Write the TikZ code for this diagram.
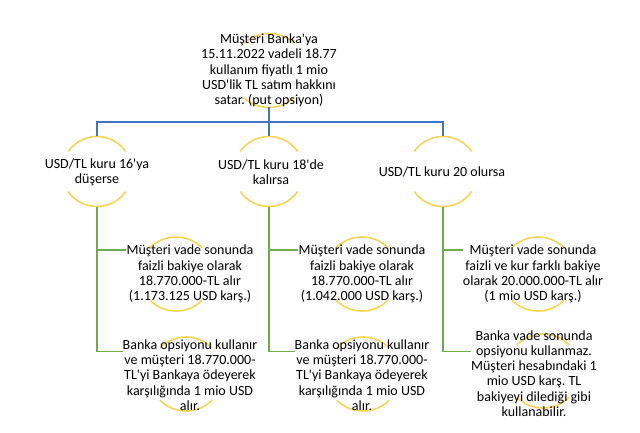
\documentclass[tikz,border=0pt]{standalone}
\usepackage{fontspec}
\setmainfont{Carlito}
\frenchspacing
\usetikzlibrary{positioning}
\definecolor{HalkaSari}{HTML}{F5D451}
\definecolor{BagMavi}{HTML}{4472C4}
\definecolor{BagYesil}{HTML}{70AD47}

\begin{document}
\begin{tikzpicture}[
        x=1pt, y=1pt, font=\fontsize{14}{15.3}\selectfont,
        halkayeri/.style={circle, inner sep=0pt, outer sep=0pt},
        halka/.style={HalkaSari, line width=1.6pt},
        metin/.style={align=center, inner sep=0pt},
        mavi/.style={BagMavi, line width=1.2pt},
        yesil/.style={BagYesil, line width=1.2pt},
      ]
        \useasboundingbox (0,0) rectangle (640,432);
        % --- halkalar: yalnız üst ve alt yaylar ---
        \foreach \ad/\x/\y/\r/\a in {h0/269/361.5/37/47, h1/97/260.5/35/35, h2/269/260.5/35/35, h3/443/260.5/35/35,
            c1/176/158/37/45, c2/362/158/37/45, c3/538/158/37/45,
            d1/186/58/37/45, d2/363/58/37/45, d3/543/61/37/45}{
          \node[halkayeri, minimum size=2*\r] (\ad) at (\x,\y) {};
          \draw[halka] (\ad.\a) arc[start angle=\a, end angle=180-\a, radius=\r];
          \draw[halka] (\ad.-\a) arc[start angle=-\a, end angle=-180+\a, radius=\r];
        }
        % --- metinler ---
        \node[metin] (ana) at (269,361.5) {Müşteri Banka\textquotesingle ya\\15.11.2022 vadeli 18.77\\kullanım fiyatlı 1 mio\\USD\textquotesingle lik TL satım hakkını\\satar. (put opsiyon)};
        \node[metin] (k1) at (97,260) {USD/TL kuru 16\textquotesingle ya\\düşerse};
        \node[metin] (k2) at (271,260) {USD/TL kuru 18\textquotesingle de\\kalırsa};
        \node[metin] (k3) at (442,260) {USD/TL kuru 20 olursa};
        \node[metin] (u1) at (190,158) {Müşteri vade sonunda\\faizli bakiye olarak\\18.770.000-TL alır\\(1.173.125 USD karş.)};
        \node[metin] (u2) at (362,158) {Müşteri vade sonunda\\faizli bakiye olarak\\18.770.000-TL alır\\(1.042.000 USD karş.)};
        \node[metin] (u3) at (533,158) {Müşteri vade sonunda\\faizli ve kur farklı bakiye\\olarak 20.000.000-TL alır\\(1 mio USD karş.)};
        \node[metin] (a1) at (190,57) {Banka opsiyonu kullanır\\ve müşteri 18.770.000-\\TL\textquotesingle yi Bankaya ödeyerek\\karşılığında 1 mio USD\\alır.};
        \node[metin] (a2) at (362,57) {Banka opsiyonu kullanır\\ve müşteri 18.770.000-\\TL\textquotesingle yi Bankaya ödeyerek\\karşılığında 1 mio USD\\alır.};
        \node[metin] (a3) at (534,58.5) {Banka vade sonunda\\opsiyonu kullanmaz.\\Müşteri hesabındaki 1\\mio USD karş. TL\\bakiyeyi dilediği gibi\\kullanabilir.};
        % --- mavi bağlar (1. düzey -> 2. düzey) ---
        \coordinate (m0) at (269,310);
        \draw[mavi] (ana.south -| h0.south) -- (m0);
        \draw[mavi] (h1.north) |- (m0) -| (h3.north);
        \draw[mavi] (m0) -- (h2.north);
        % --- yeşil bağlar (2. düzey -> 3. düzey) ---
        \coordinate (dust) at (0,182);
        \coordinate (dalt) at (0,80.5);
        \foreach \k in {1,2,3}{
          \draw[yesil] (h\k.south) |- (u\k.west |- dust);
          \draw[yesil] (h\k.south) |- (a\k.west |- dalt);
        }
      \end{tikzpicture}
\end{document}
